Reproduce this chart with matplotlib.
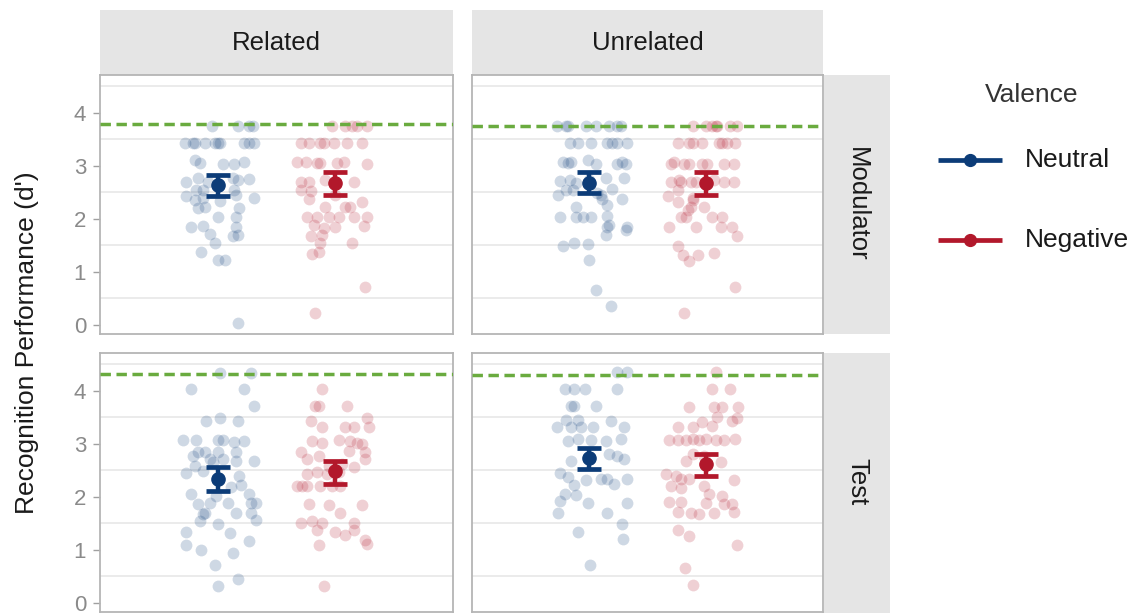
import matplotlib.pyplot as plt
from matplotlib.lines import Line2D
from matplotlib.patches import Rectangle

plt.rcParams["font.family"] = ["Liberation Sans", "DejaVu Sans"]

W, H = 1138, 613

relations = ["Related", "Unrelated"]
phases = ["Modulator", "Test"]
valences = ["Neutral", "Negative"]
colors = {"Neutral": "#0c3c78", "Negative": "#b2182b"}

# d' per participant (jit = horizontal jitter offset)
rel_mod_neu_y = [3.74, 3.74, 3.74, 3.74,
                 3.43, 3.43, 3.43, 3.43, 3.43, 3.43, 3.43, 3.43, 3.43, 3.43,
                 3.10, 3.06, 3.04, 3.04, 3.08,
                 2.70, 2.77, 2.70, 2.77, 2.74, 2.75,
                 2.55, 2.55, 2.55,
                 2.43, 2.36, 2.39, 2.33, 2.45, 2.39,
                 2.20, 2.23, 2.20, 2.04, 2.03,
                 1.85, 1.86, 1.85, 1.72, 1.67, 1.70,
                 1.55, 1.38, 1.23, 1.23, 0.03]
rel_mod_neu_jit = [-0.018, 0.069, 0.108, 0.119,
                   -0.111, -0.083, -0.078, -0.044, -0.010, 0.001, 0.007, 0.091, 0.108, 0.125,
                   -0.078, -0.061, 0.018, 0.057, 0.091,
                   -0.106, -0.066, -0.033, 0.052, 0.069, 0.108,
                   -0.072, -0.050, 0.057,
                   -0.106, -0.078, -0.050, 0.007, 0.063, 0.125,
                   -0.066, -0.044, 0.074, 0.001, 0.063,
                   -0.089, -0.050, 0.063, -0.027, 0.052, 0.069,
                   -0.010, -0.055, 0.001, 0.024, 0.069]

rel_mod_neg_y = [3.75, 3.75, 3.75, 3.75, 3.75,
                 3.43, 3.43, 3.43, 3.43, 3.43, 3.43, 3.43,
                 3.08, 3.08, 3.06, 3.06, 3.06, 3.08, 3.04,
                 2.70, 2.69, 2.74, 2.69,
                 2.55, 2.52, 2.45, 2.37,
                 2.22, 2.22, 2.22, 2.32,
                 2.04, 2.04, 2.04, 2.04, 2.04, 2.04,
                 1.88, 1.82, 1.84, 1.86, 1.67, 1.70,
                 1.55, 1.55, 1.33, 1.38, 0.72, 0.22]
rel_mod_neg_jit = [-0.011, 0.034, 0.056, 0.073, 0.107,
                   -0.118, -0.090, -0.051, -0.039, -0.006, 0.039, 0.090,
                   -0.130, -0.101, -0.062, -0.051, 0.006, 0.028, 0.107,
                   -0.118, -0.090, -0.034, 0.062,
                   -0.118, -0.084, 0.000, -0.090,
                   -0.034, 0.034, 0.051, 0.090,
                   -0.096, -0.062, -0.023, 0.011, 0.062, 0.107,
                   -0.073, -0.039, 0.000, 0.096, -0.084, -0.045,
                   -0.051, 0.056, -0.079, -0.056, 0.101, -0.068]

unr_mod_neu_y = [3.74, 3.74, 3.74, 3.74, 3.74, 3.74, 3.74, 3.74,
                 3.43, 3.43, 3.43, 3.43, 3.43, 3.43, 3.43,
                 3.08, 3.06, 3.08, 3.10, 3.04, 3.03, 3.08, 3.03,
                 2.71, 2.73, 2.68, 2.73, 2.77, 2.77,
                 2.45, 2.55, 2.55, 2.49, 2.57, 2.45,
                 2.38, 2.37, 2.26, 2.22,
                 2.04, 2.04, 2.04, 2.04, 2.05,
                 1.85, 1.88, 1.85, 1.79, 1.70,
                 1.49, 1.55, 1.53, 1.23, 0.66, 0.35]
unr_mod_neu_jit = [-0.111, -0.078, -0.072, -0.010, 0.024, 0.069, 0.097, 0.108,
                   -0.066, -0.038, 0.007, 0.063, 0.080, 0.097, 0.131,
                   -0.089, -0.072, -0.061, -0.005, 0.024, 0.097, 0.114, 0.125,
                   -0.100, -0.066, -0.044, 0.001, 0.057, 0.119,
                   -0.106, -0.078, -0.055, 0.029, 0.080, 0.041,
                   0.114, 0.046, 0.063, -0.044,
                   -0.100, -0.044, -0.021, 0.007, 0.063,
                   0.063, 0.069, 0.131, 0.125, 0.057,
                   -0.089, -0.050, -0.005, 0.001, 0.024, 0.074]

unr_mod_neg_y = [3.74, 3.74, 3.74, 3.74, 3.74, 3.74, 3.74,
                 3.43, 3.43, 3.43, 3.43, 3.43, 3.43, 3.43, 3.43,
                 3.04, 3.08, 3.04, 3.04, 3.04, 3.04, 3.04, 3.04,
                 2.70, 2.73, 2.70, 2.70, 2.70, 2.73, 2.70, 2.70,
                 2.55, 2.43, 2.39, 2.32, 2.36,
                 2.22, 2.22, 2.17,
                 2.04, 2.04, 2.04, 2.04,
                 1.85, 1.85, 1.85, 1.85, 1.67,
                 1.49, 1.32, 1.21, 1.32, 1.36, 0.72, 0.22]
unr_mod_neg_jit = [-0.046, -0.001, 0.021, 0.033, 0.038, 0.083, 0.106,
                   -0.097, -0.057, -0.046, -0.012, 0.044, 0.055, 0.072, 0.100,
                   -0.119, -0.108, -0.074, -0.057, -0.012, 0.005, 0.061, 0.095,
                   -0.119, -0.091, -0.086, -0.052, -0.035, 0.027, 0.061, 0.095,
                   -0.097, -0.131, -0.046, -0.097, -0.046,
                   -0.052, -0.007, -0.063,
                   -0.086, -0.069, 0.021, 0.055,
                   -0.125, -0.035, 0.050, 0.089, 0.106,
                   -0.097, -0.080, -0.057, -0.029, 0.027, 0.100, -0.074]

rel_test_neu_y = [4.34, 4.34, 4.04, 4.04, 3.71,
                  3.42, 3.49, 3.42,
                  3.07, 3.07, 3.07, 3.07, 3.03, 3.05,
                  2.77, 2.84, 2.84, 2.85, 2.72, 2.85, 2.68, 2.68, 2.72,
                  2.44, 2.49, 2.58, 2.39, 2.22, 2.19, 2.65,
                  2.05, 1.86, 1.89, 2.02, 1.89, 1.70, 2.05, 1.89, 1.89, 1.70, 1.67, 1.70,
                  1.54, 1.48, 1.56, 1.33, 1.32, 1.16, 1.10,
                  0.99, 0.94, 0.72, 0.45, 0.32]
rel_test_neu_jit = [0.007, 0.114, -0.089, 0.091, 0.125,
                    -0.038, 0.007, 0.069,
                    -0.117, -0.072, 0.001, 0.018, 0.057, 0.091,
                    -0.083, -0.066, -0.044, 0.001, 0.018, 0.063, 0.063, 0.125, -0.027,
                    -0.106, -0.050, -0.078, 0.074, 0.080, 0.046, -0.016,
                    -0.089, -0.066, -0.027, -0.005, 0.035, 0.063, 0.108, 0.114, 0.131, -0.044, -0.050, 0.114,
                    -0.061, 0.001, 0.131, -0.106, 0.041, 0.108, -0.106,
                    -0.055, 0.052, -0.010, 0.069, 0.001]

rel_test_neg_y = [4.04, 3.71, 3.71, 3.71,
                  3.42, 3.31, 3.31, 3.31, 3.48, 3.31,
                  3.05, 3.02, 3.07, 3.05, 3.02, 3.00,
                  2.84, 2.87, 2.84, 2.77, 2.71, 2.71,
                  2.58, 2.62, 2.57, 2.43, 2.47, 2.43, 2.46,
                  2.21, 2.21, 2.21, 2.21, 2.21, 2.21,
                  1.86, 1.84, 1.84, 1.70,
                  1.51, 1.54, 1.38, 1.51, 1.51, 1.38,
                  1.33, 1.29, 1.19, 1.12, 1.10, 0.32]
rel_test_neg_jit = [-0.045, -0.068, -0.056, 0.039,
                    -0.084, -0.045, 0.034, 0.062, 0.107, 0.113,
                    -0.079, -0.045, 0.011, 0.051, 0.073, 0.090,
                    -0.118, 0.045, 0.101, -0.056, -0.096, 0.101,
                    -0.023, 0.023, 0.062, -0.096, -0.062, -0.028, 0.011,
                    -0.130, -0.113, -0.096, -0.051, -0.011, 0.017,
                    -0.090, -0.023, 0.090, 0.017,
                    -0.118, -0.079, -0.062, -0.045, 0.062, 0.062,
                    0.000, 0.034, 0.101, 0.107, -0.056, -0.039]

unr_test_neu_y = [4.35, 4.35, 4.04, 4.04, 4.04, 4.04, 3.71, 3.71, 3.71,
                  3.44, 3.44, 3.42, 3.31, 3.31, 3.31, 3.31, 3.31,
                  3.06, 3.09, 3.08, 3.06, 3.09,
                  2.68, 2.81, 2.76, 2.71, 2.74,
                  2.45, 2.38, 2.32, 2.33, 2.33, 2.34, 2.24, 2.22,
                  2.05, 2.03, 1.92, 1.89, 1.88, 1.70, 1.70,
                  1.48, 1.33, 1.20, 0.71]
unr_test_neu_jit = [0.097, 0.131, -0.083, -0.050, -0.014, 0.097, -0.061, -0.050, 0.024,
                    -0.078, -0.038, 0.074, -0.111, -0.061, -0.027, 0.012, 0.119,
                    -0.072, -0.038, 0.007, 0.057, 0.108,
                    -0.061, 0.069, 0.097, 0.119, 0.001,
                    -0.100, -0.072, -0.010, 0.041, 0.063, 0.131, 0.086, -0.052,
                    -0.083, -0.044, -0.100, -0.005, 0.131, -0.106, 0.063,
                    0.114, -0.038, 0.116, 0.005]

unr_test_neg_y = [4.35, 4.04, 4.04, 3.69, 3.69, 3.69, 3.69,
                  3.50, 3.41, 3.33, 3.42, 3.48, 3.31, 3.31,
                  3.07, 3.07, 3.07, 3.09, 3.07, 3.09, 3.07, 3.07, 3.09,
                  2.81, 2.77, 2.68, 2.65,
                  2.43, 2.39, 2.33, 2.33, 2.20, 2.17, 2.20, 2.32,
                  2.05, 2.02, 1.89, 1.86, 1.86, 1.90, 1.90, 1.71, 1.70, 1.67, 1.69, 1.71,
                  1.38, 1.27, 1.10, 0.66, 0.33]
unr_test_neg_jit = [0.035, 0.021, 0.083, -0.057, 0.027, 0.055, 0.109,
                    0.038, -0.012, 0.021, 0.089, 0.106, -0.097, -0.046,
                    -0.125, -0.097, -0.069, -0.046, -0.024, -0.001, 0.033, 0.061, 0.100,
                    -0.046, -0.007, -0.069, 0.050,
                    -0.136, -0.102, -0.086, -0.057, -0.119, -0.086, -0.007, 0.095,
                    0.010, 0.055, -0.001, 0.061, 0.089, -0.125, -0.086, -0.097, -0.052, -0.024, 0.027, 0.095,
                    -0.097, -0.057, 0.106, -0.071, -0.043]

# panel order: Related/Modulator, Unrelated/Modulator, Related/Test, Unrelated/Test
neu_mean = [2.63, 2.68, 2.33, 2.73]
neu_lo = [2.43, 2.49, 2.11, 2.52]
neu_hi = [2.83, 2.89, 2.56, 2.92]
neg_mean = [2.67, 2.67, 2.48, 2.62]
neg_lo = [2.45, 2.45, 2.25, 2.39]
neg_hi = [2.88, 2.89, 2.67, 2.81]
ref_line = [3.79, 3.74, 4.32, 4.29]

points = [
    {"Neutral": (rel_mod_neu_jit, rel_mod_neu_y), "Negative": (rel_mod_neg_jit, rel_mod_neg_y)},
    {"Neutral": (unr_mod_neu_jit, unr_mod_neu_y), "Negative": (unr_mod_neg_jit, unr_mod_neg_y)},
    {"Neutral": (rel_test_neu_jit, rel_test_neu_y), "Negative": (rel_test_neg_jit, rel_test_neg_y)},
    {"Neutral": (unr_test_neu_jit, unr_test_neu_y), "Negative": (unr_test_neg_jit, unr_test_neg_y)},
]
summary = {"Neutral": (neu_mean, neu_lo, neu_hi), "Negative": (neg_mean, neg_lo, neg_hi)}
dodge = {"Neutral": 0.8, "Negative": 1.2}

COLS = [(100, 453), (472, 823)]
ROWS = [(75, 334), (353, 612)]
STRIP_FILL = "#e5e5e5"
BORDER = "#b5b5b5"


def fig_rect(x0, y0, x1, y1):
    return [x0 / W, 1 - y1 / H, (x1 - x0) / W, (y1 - y0) / H]


def add_strip(fig, x0, y0, x1, y1, label, rotation=0, ty=None):
    fig.add_artist(Rectangle((x0 / W, 1 - y1 / H), (x1 - x0) / W, (y1 - y0) / H,
                             transform=fig.transFigure, facecolor=STRIP_FILL,
                             edgecolor="none", zorder=0))
    ty = (y0 + y1) / 2 if ty is None else ty
    fig.text((x0 + x1) / 2 / W, 1 - ty / H, label, rotation=rotation,
             ha="center", va="center", fontsize=18.5, color="#1a1a1a")


def draw_panel(ax, k):
    for val in valences:
        jit, ys = points[k][val]
        xs = [dodge[val] + j for j in jit]
        ax.scatter(xs, ys, s=72, color=colors[val], alpha=0.2, linewidths=0, zorder=2)
    ax.axhline(ref_line[k], color="#6aab3f", lw=2.5, ls=(0, (3.0, 1.6)), zorder=3)
    for val in valences:
        m, lo, hi = summary[val]
        ax.errorbar([dodge[val]], [m[k]], yerr=[[m[k] - lo[k]], [hi[k] - m[k]]],
                    fmt="o", color=colors[val], ms=9.5, elinewidth=3.2,
                    capsize=8.5, capthick=3.4, zorder=4)
    ax.set_xlim(0.4, 1.6)
    ax.set_ylim(-0.17, 4.71)
    ax.set_xticks([])
    ax.set_yticks([0, 1, 2, 3, 4])
    ax.set_yticks([0.5, 1.5, 2.5, 3.5, 4.5], minor=True)
    ax.grid(False)
    ax.grid(True, which="minor", axis="y", color="#e6e6e6", lw=1.1, zorder=0)
    ax.tick_params(which="minor", length=0)
    ax.tick_params(which="major", axis="y", length=5, width=1, color="#a0a0a0",
                   labelsize=16, labelcolor="#8a8a8a", pad=5)
    for sp in ax.spines.values():
        sp.set_color(BORDER)
        sp.set_linewidth(1.3)
    if k % 2 == 1:
        ax.tick_params(axis="y", left=False, labelleft=False)


def main():
    fig = plt.figure(figsize=(W / 100, H / 100), dpi=100)

    for r, (y0, y1) in enumerate(ROWS):
        for c, (x0, x1) in enumerate(COLS):
            ax = fig.add_axes(fig_rect(x0, y0, x1, y1))
            draw_panel(ax, r * 2 + c)

    for c, (x0, x1) in enumerate(COLS):
        add_strip(fig, x0, 10, x1, 75, relations[c])
    add_strip(fig, 824, 75, 890, 334, phases[0], rotation=270)
    add_strip(fig, 824, 353, 890, 625, phases[1], rotation=270, ty=482)

    fig.text(27 / W, 1 - 343 / H, "Recognition Performance (d')", rotation=90,
             ha="center", va="center", fontsize=19, color="#1a1a1a")

    # legend
    fig.text(1032 / W, 1 - 95 / H, "Valence", ha="center", va="center",
             fontsize=19, color="#333333")
    for val, yy in (("Neutral", 160), ("Negative", 240)):
        yf = 1 - yy / H
        fig.add_artist(Line2D([938 / W, 1002 / W], [yf, yf], transform=fig.transFigure,
                              color=colors[val], lw=3.4, solid_capstyle="butt"))
        fig.add_artist(Line2D([970 / W], [yf], transform=fig.transFigure, marker="o",
                              ms=8.5, color=colors[val], lw=0))
        fig.text(1025 / W, yf, val, ha="left", va="center", fontsize=19, color="#1a1a1a")

    fig.savefig("out.png", dpi=100)
    plt.close(fig)


if __name__ == "__main__":
    main()
